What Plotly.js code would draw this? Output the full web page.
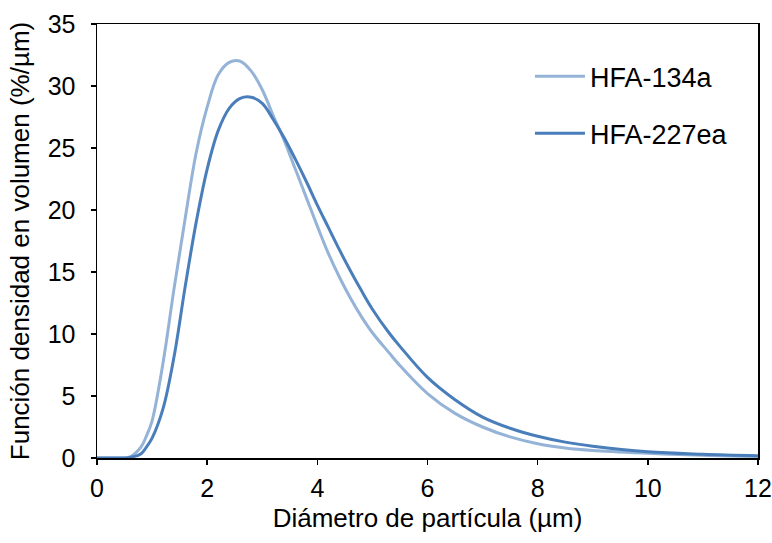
<!DOCTYPE html>
<html>
<head>
<meta charset="utf-8">
<script src="https://cdn.plot.ly/plotly-3.0.1.min.js"></script>
<style>html,body{margin:0;padding:0;background:#fff;}#chart{width:772px;height:543px;}</style>
</head>
<body>
<div id="chart"></div>
<script>
// Particle diameter (µm)
const diameter = [0, 0.2, 0.4, 0.6, 0.8, 0.9, 1.0, 1.2, 1.4, 1.6, 1.8, 2.0, 2.2, 2.4, 2.6, 2.8, 3.0, 3.2, 3.4, 3.6, 3.8, 4.0, 4.2, 4.4, 4.6, 4.8, 5.0, 5.3, 5.5, 6.0, 6.5, 7.0, 7.5, 8.0, 8.5, 9.0, 10.0, 11.0, 12.0];
// Volume density (%/µm)
const hfa134a = [0, 0, 0, 0.1, 0.9, 1.8, 3.0, 7.7, 13.7, 19.3, 24.6, 28.3, 30.9, 31.9, 32.0, 31.2, 29.7, 27.6, 25.6, 23.3, 21.0, 18.7, 16.5, 14.6, 12.9, 11.4, 10.1, 8.5, 7.45, 5.2, 3.6, 2.5, 1.7, 1.15, 0.8, 0.6, 0.38, 0.22, 0.12];
const hfa227ea = [0, 0, 0, 0.05, 0.35, 0.9, 1.6, 4.0, 8.2, 13.8, 19.0, 23.3, 26.4, 28.2, 29.0, 29.1, 28.6, 27.3, 25.8, 24.1, 22.3, 20.4, 18.6, 16.8, 15.1, 13.5, 12.0, 10.1, 9.0, 6.5, 4.7, 3.3, 2.4, 1.75, 1.28, 0.95, 0.5, 0.3, 0.18];
const seriesNames = ["HFA-134a", "HFA-227ea"];
const xTicks = [0, 2, 4, 6, 8, 10, 12];
const yTicks = [0, 5, 10, 15, 20, 25, 30, 35];

const font = "Liberation Sans, Arial, sans-serif";
const traces = [
  {x: diameter, y: hfa134a, name: seriesNames[0], mode: "lines", legendgroup: "a",
   line: {color: "#95B3D7", width: 3, shape: "spline", smoothing: 1}},
  {x: diameter, y: hfa227ea, name: seriesNames[1], mode: "lines", legendgroup: "b",
   line: {color: "#4A7EBB", width: 3, shape: "spline", smoothing: 1}}
];
const axisCommon = {
  showgrid: false, zeroline: false, showline: true, linecolor: "#000", linewidth: 1.5,
  mirror: true, ticks: "outside", ticklen: 5, tickwidth: 1.5, tickcolor: "#000",
  tickfont: {family: font, size: 25, color: "#000"}
};
const layout = {
  width: 772, height: 543,
  margin: {l: 97, r: 14, t: 24, b: 85},
  paper_bgcolor: "#fff", plot_bgcolor: "#fff",
  font: {family: font, color: "#000"},
  showlegend: true,
  legend: {x: 0.655, y: 0.935, xanchor: "left", yanchor: "top", bgcolor: "rgba(0,0,0,0)",
    font: {family: font, size: 27, color: "#000"}, tracegroupgap: 19, itemwidth: 50},
  xaxis: Object.assign({}, axisCommon, {range: [0, 12], tickvals: xTicks, ticklabelstandoff: 2,
    title: {text: "Diámetro de partícula (µm)", font: {family: font, size: 26, color: "#000"}, standoff: 8}}),
  yaxis: Object.assign({}, axisCommon, {range: [0, 35], tickvals: yTicks, ticklabelstandoff: 10,
    title: {text: "Función densidad en volumen (%/µm)", font: {family: font, size: 26, color: "#000"}, standoff: 10}})
};
Plotly.newPlot("chart", traces, layout, {displayModeBar: false, staticPlot: true});
</script>
</body>
</html>
